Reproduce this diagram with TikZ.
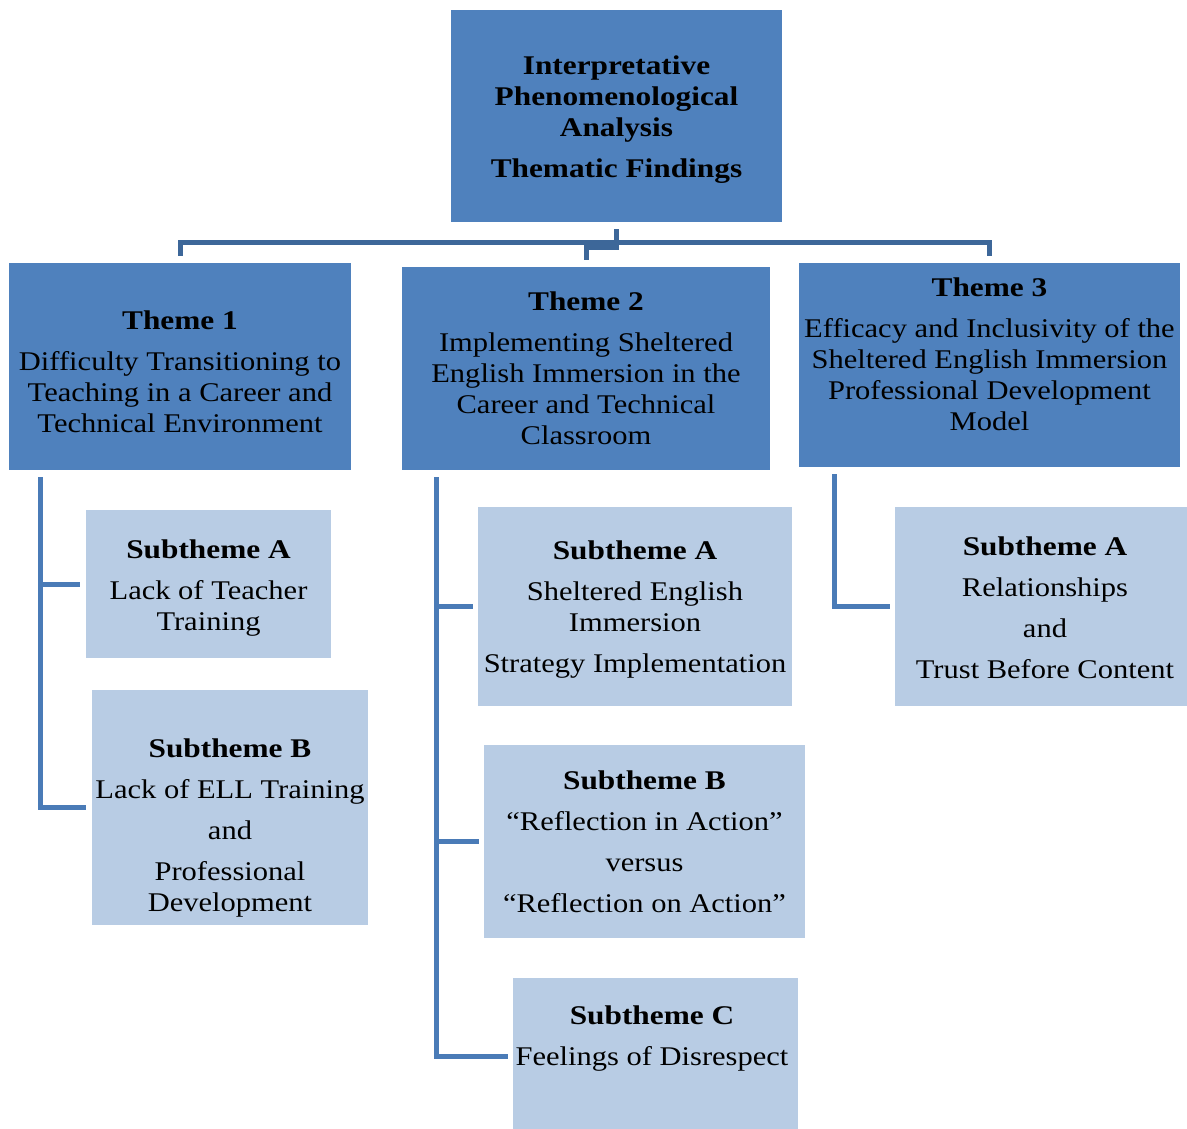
\documentclass[tikz,border=0pt]{standalone}
\usepackage{fontspec}
\setmainfont[FakeStretch=1.13, BoldFeatures={FakeStretch=1.16}]{Liberation Serif}
\definecolor{themefill}{HTML}{4F81BD}
\definecolor{subfill}{HTML}{B8CCE4}
\definecolor{bracketcol}{HTML}{3D6799}
\definecolor{sidecol}{HTML}{4A7BB7}
\tikzset{
  themebox/.style={fill=themefill, draw=none, inner sep=0pt},
  subbox/.style={fill=subfill, draw=none, inner sep=0pt},
  txt/.style={align=center, inner sep=0pt, font=\fontsize{27}{31}\selectfont, text=black},
  bracket/.style={draw=bracketcol, line width=5pt, line join=miter},
  side/.style={draw=sidecol, line width=5pt, line join=miter},
}
\begin{document}
\begin{tikzpicture}[x=1pt,y=-1pt]
\useasboundingbox (0,0) rectangle (1187,1129);

% boxes
\node[themebox, minimum width=331pt, minimum height=212pt] (top) at (616.5,116) {};
\node[themebox, minimum width=342pt, minimum height=207pt] (t1) at (180,366.5) {};
\node[themebox, minimum width=368pt, minimum height=203pt] (t2) at (586,368.5) {};
\node[themebox, minimum width=381pt, minimum height=204pt] (t3) at (989.5,365) {};
\node[subbox, minimum width=245pt, minimum height=148pt] (s1a) at (208.5,584) {};
\node[subbox, minimum width=276pt, minimum height=235pt] (s1b) at (230,807.5) {};
\node[subbox, minimum width=314pt, minimum height=199pt] (s2a) at (635,606.5) {};
\node[subbox, minimum width=321pt, minimum height=193pt] (s2b) at (644.5,841.5) {};
\node[subbox, minimum width=285pt, minimum height=151pt] (s2c) at (655.5,1053.5) {};
\node[subbox, minimum width=292pt, minimum height=199pt] (s3a) at (1041,606.5) {};

% texts
\node[txt] (topt) at (616.5,120) {\textbf{Interpretative}\\\textbf{Phenomenological}\\\textbf{Analysis}\\[10pt]\textbf{Thematic Findings}};
\node[txt] (t1t) at (180,371.5) {\textbf{Theme 1}\\[10pt]Difficulty Transitioning to\\Teaching in a Career and\\Technical Environment};
\node[txt] (t2t) at (586,368.5) {\textbf{Theme 2}\\[10pt]Implementing Sheltered\\English Immersion in the\\Career and Technical\\Classroom};
\node[txt] (t3t) at (989.5,354) {\textbf{Theme 3}\\[10pt]Efficacy and Inclusivity of the\\Sheltered English Immersion\\Professional Development\\Model};
\node[txt] (s1at) at (208.5,588) {\textbf{Subtheme A}\\[10pt]Lack of Teacher\\Training};
\node[txt] (s1bt) at (230,828.5) {\textbf{Subtheme B}\\[10pt]Lack of ELL Training\\[10pt]and\\[10pt]Professional\\Development};
\node[txt] (s2at) at (635,610) {\textbf{Subtheme A}\\[10pt]Sheltered English\\Immersion\\[10pt]Strategy Implementation};
\node[txt] (s2bt) at (644.5,842) {\textbf{Subtheme B}\\[10pt]“Reflection in Action”\\[10pt]versus\\[10pt]“Reflection on Action”};
\node[txt] (s2ct) at (652,1038.5) {\textbf{Subtheme C}\\[10pt]Feelings of Disrespect};
\node[txt] (s3at) at (1045,607.5) {\textbf{Subtheme A}\\[10pt]Relationships\\[10pt]and\\[10pt]Trust Before Content};

% top bracket
\path (top.south) ++(0,20) coordinate (hy);
\path (top.south) ++(0,25) coordinate (jy);
\draw[bracket] ([yshift=-7pt]top.south) -- (top.south |- jy) -| ([yshift=7pt]t2.north);
\draw[bracket] ([yshift=7pt]t1.north) -- (t1.north |- hy) -- (t3.north |- hy) -- ([yshift=7pt]t3.north);

% theme 1 branches
\coordinate (r1) at ([xshift=32pt,yshift=-7pt]t1.south west);
\draw[side] (r1) |- ([xshift=-6pt]s1b.west);
\draw[side] (r1 |- s1a.west) -- ([xshift=-6pt]s1a.west);

% theme 2 branches
\coordinate (r2) at ([xshift=35pt,yshift=-7pt]t2.south west);
\coordinate (c2) at ([xshift=-5pt,yshift=-2.5pt]s2c.west);
\draw[side] (r2) |- (c2);
\draw[side] (r2 |- s2a.west) -- ([xshift=-5pt]s2a.west);
\draw[side] (r2 |- s2b.west) -- ([xshift=-5pt]s2b.west);

% theme 3 branch
\coordinate (r3) at ([xshift=36pt,yshift=-7pt]t3.south west);
\draw[side] (r3) |- ([xshift=-5pt]s3a.west);
\end{tikzpicture}
\end{document}
